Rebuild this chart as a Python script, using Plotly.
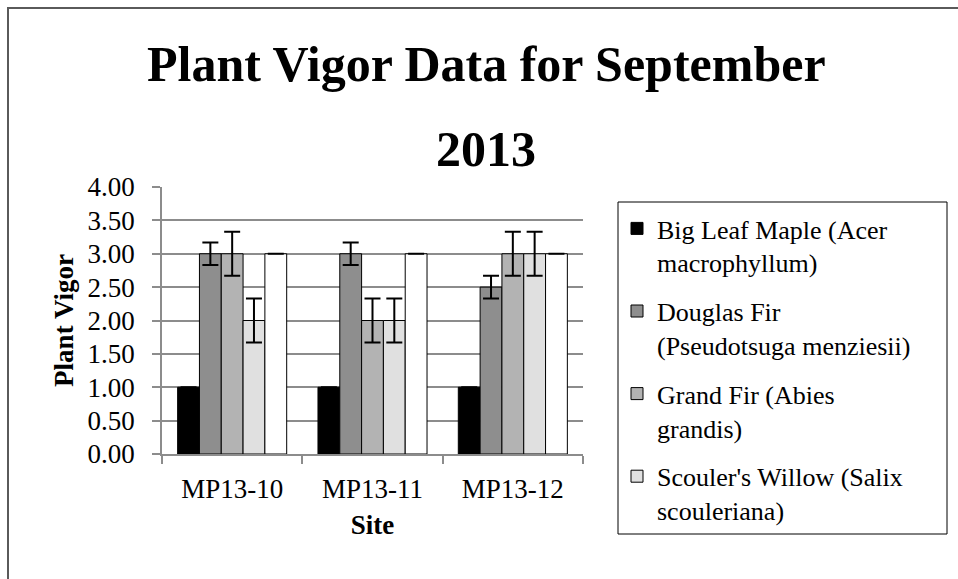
import plotly.graph_objects as go

# data
sites = ["MP13-10", "MP13-11", "MP13-12"]
species = [
    "Big Leaf Maple (Acer<br>macrophyllum)",
    "Douglas Fir<br>(Pseudotsuga menziesii)",
    "Grand Fir (Abies<br>grandis)",
    "Scouler's Willow (Salix<br>scouleriana)",
    "Series 5",
]
maple = [1.0, 1.0, 1.0]
maple_err = [0.0, 0.0, 0.0]
douglas = [3.0, 3.0, 2.5]
douglas_err = [0.17, 0.17, 0.17]
grand = [3.0, 2.0, 3.0]
grand_err = [0.33, 0.33, 0.33]
willow = [2.0, 2.0, 3.0]
willow_err = [0.33, 0.33, 0.33]
fifth = [3.0, 3.0, 3.0]
fifth_err = [0.0, 0.0, 0.0]

title_lines = ["Plant Vigor Data for September", "2013"]

values = [maple, douglas, grand, willow, fifth]
errors = [maple_err, douglas_err, grand_err, willow_err, fifth_err]
colors = ["#000000", "#8e8e8e", "#b3b3b3", "#e0e0e0", "#ffffff"]

W, H = 958, 579
L, R, T, B = 162, 375, 187, 125
pw, ph = W - L - R, H - T - B


def px_x(x):
    return (x - L) / pw


def px_y(y):
    return (H - B - y) / ph


FONT = "Liberation Serif"

fig = go.Figure()
for i in range(5):
    fig.add_trace(go.Bar(x=sites, y=values[i],
                         name=species[i],
                         marker_color=colors[i],
                         marker_line_color="black",
                         marker_line_width=1,
                         error_y=dict(type="data", array=errors[i], visible=True,
                                      color="black", thickness=2, width=8),
                         legendgroup="g%d" % i,
                         showlegend=(i < 4)))

fig.update_layout(
    width=W, height=H,
    margin=dict(l=L, r=R, t=T, b=B, autoexpand=False),
    paper_bgcolor="white", plot_bgcolor="white",
    barmode="group", bargap=0.223, bargroupgap=0,
    font=dict(family=FONT, color="black", size=26),
    legend=dict(x=px_x(617), xanchor="left",
                y=px_y(205), yanchor="top",
                maxheight=420,
                font=dict(family=FONT, size=26, color="black"),
                valign="top", tracegroupgap=12, bgcolor="rgba(0,0,0,0)",
                borderwidth=0),
    showlegend=True,
)

# two-line chart title
for txt, yc in zip(title_lines, [64, 149]):
    fig.add_annotation(text="<b>%s</b>" % txt, xref="paper", yref="paper",
                       x=px_x(486), y=px_y(yc), xanchor="center", yanchor="middle",
                       showarrow=False,
                       font=dict(family=FONT, size=50, color="black"))

fig.update_yaxes(range=[0, 4], dtick=0.5, tickformat=".2f",
                 showgrid=True, gridcolor="#8c8c8c", gridwidth=1.5,
                 showline=True, linecolor="#8c8c8c", linewidth=1.5,
                 ticks="outside", ticklen=8, tickcolor="#8c8c8c", tickwidth=1.5,
                 ticklabelstandoff=12, zeroline=False,
                 tickfont=dict(family=FONT, size=27),
                 title=dict(text="<b>Plant Vigor</b>", standoff=6,
                            font=dict(family=FONT, size=27)))
fig.update_xaxes(type="category", tickson="boundaries",
                 showline=True, linecolor="#8c8c8c", linewidth=1.5,
                 ticks="outside", ticklen=8, tickcolor="#8c8c8c", tickwidth=1.5,
                 ticklabelstandoff=10,
                 tickfont=dict(family=FONT, size=27),
                 title=dict(text="<b>Site</b>", standoff=12,
                            font=dict(family=FONT, size=27)))

# legend box and outer chart border
fig.add_shape(type="rect", xref="paper", yref="paper",
              x0=px_x(618), x1=px_x(947), y0=px_y(534), y1=px_y(202),
              line=dict(color="black", width=1))
fig.add_shape(type="rect", xref="paper", yref="paper",
              x0=px_x(8), x1=px_x(990), y0=px_y(600), y1=px_y(8),
              line=dict(color="#5a5a5a", width=2))

fig.write_html("out.html", config={"displayModeBar": False},
               post_script="document.body.style.margin='0';")
